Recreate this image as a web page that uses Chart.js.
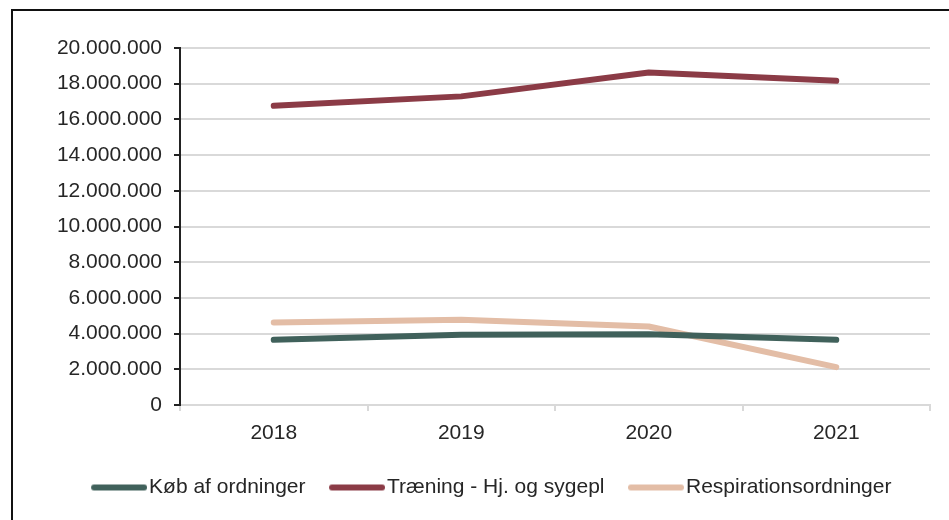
<!DOCTYPE html>
<html>
<head>
<meta charset="utf-8">
<script src="https://cdn.jsdelivr.net/npm/chart.js@4/dist/chart.umd.min.js"></script>
<style>
    body { margin: 0; background: #fff; overflow: hidden; }
    #frame { position: absolute; left: 11px; top: 9px; width: 1000px; height: 600px; border: 2px solid #111; }
    #wrap { position: absolute; left: 0; top: 0; width: 949px; height: 520px; }
</style>
</head>
<body>
<div id="frame"></div>
<div id="wrap"><canvas id="udgifterChart"></canvas></div>
<script>
// data
const years = ["2018", "2019", "2020", "2021"];
const kobData = [3650000, 3930000, 3970000, 3650000];
const traeningData = [16760000, 17290000, 18630000, 18160000];
const respData = [4620000, 4780000, 4400000, 2120000];
const yTicks = [0, 2000000, 4000000, 6000000, 8000000, 10000000, 12000000, 14000000, 16000000, 18000000, 20000000];

const textColor = '#262626';
const gridColor = '#d9d9d9';
const font = { family: "'Liberation Sans', Arial, sans-serif", size: 21 };

function dkNumber(v) {
    return String(v).replace(/\B(?=(\d{3})+(?!\d))/g, ".");
}

// legend sample: long rounded line, shifted so it sits close to the text
function legendLine(color) {
    const c = document.createElement('canvas');
    c.width = 77;
    c.height = 8;
    const ctx = c.getContext('2d');
    ctx.strokeStyle = color;
    ctx.lineWidth = 6;
    ctx.lineCap = 'round';
    ctx.beginPath();
    ctx.moveTo(24, 4);
    ctx.lineTo(74, 4);
    ctx.stroke();
    return c;
}

function lineSet(label, data, color) {
    return {
        label: label,
        data: data,
        borderColor: color,
        backgroundColor: color,
        borderWidth: 6,
        borderCapStyle: 'round',
        borderJoinStyle: 'round',
        pointRadius: 0,
        pointStyle: legendLine(color),
        tension: 0
    };
}

const udgifterElm = document.getElementById('udgifterChart');

const udgifterConfig = {
    type: 'line',
    data: {
        labels: years,
        datasets: [
            lineSet('Køb af ordninger', kobData, '#40615b'),
            lineSet('Træning - Hj. og sygepl', traeningData, '#8b3b46'),
            lineSet('Respirationsordninger', respData, '#e3bda6')
        ]
    },
    options: {
        responsive: true,
        maintainAspectRatio: false,
        animation: false,
        layout: {
            padding: { left: 40, top: 48, right: 19, bottom: 12 }
        },
        plugins: {
            legend: {
                position: 'bottom',
                labels: {
                    color: textColor,
                    font: font,
                    usePointStyle: true,
                    pointStyleWidth: 60,
                    boxHeight: 8,
                    padding: 11
                }
            },
            tooltip: { enabled: false }
        },
        scales: {
            x: {
                offset: true,
                grid: {
                    offset: true,
                    drawOnChartArea: false,
                    color: gridColor,
                    tickColor: gridColor,
                    tickLength: 6,
                    lineWidth: 2
                },
                border: { color: gridColor, width: 2 },
                ticks: { color: textColor, font: font, padding: 10 },
                afterFit: function (scale) { scale.height = 61; }
            },
            y: {
                min: 0,
                max: 20000000,
                afterBuildTicks: function (scale) {
                    scale.ticks = yTicks.map(v => ({ value: v }));
                },
                grid: {
                    color: gridColor,
                    lineWidth: 2,
                    tickColor: '#222',
                    tickLength: 6
                },
                border: { color: '#222', width: 2 },
                ticks: {
                    color: textColor,
                    font: font,
                    padding: 12,
                    callback: function (value) { return dkNumber(value); }
                },
                afterFit: function (scale) { scale.width = 140; }
            }
        }
    }
};

const udgifterChart = new Chart(udgifterElm, udgifterConfig);
</script>
</body>
</html>
